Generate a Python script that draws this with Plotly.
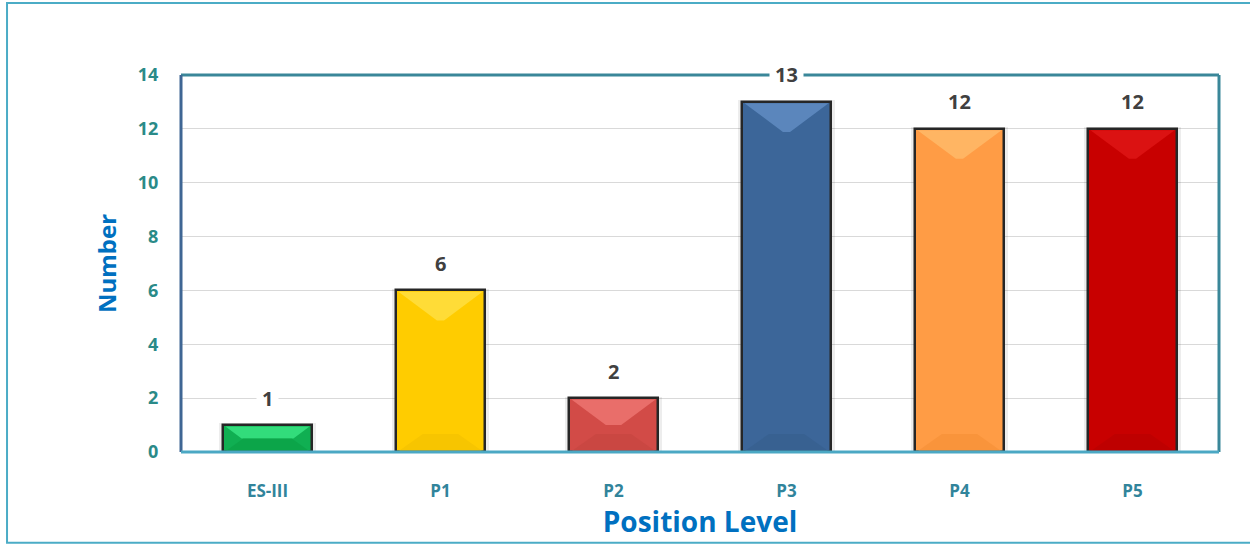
import plotly.graph_objects as go

categories = ["ES-III", "P1", "P2", "P3", "P4", "P5"]
values = [1, 6, 2, 13, 12, 12]
bar_colors = ["#10AF52", "#FFCC00", "#D24B47", "#3C6699", "#FF9C45", "#C80000"]
top_colors = ["#3DEB8A", "#FFE24A", "#F07A76", "#6592C8", "#FFBE6E", "#E21818"]
bottom_colors = ["#0A9E45", "#F2BF00", "#C44440", "#355D8C", "#F59035", "#B80000"]
y_ticks = [0, 2, 4, 6, 8, 10, 12, 14]

BAR_W = 0.51
fig = go.Figure()

# soft shadow behind bars
fig.add_trace(go.Bar(x=list(range(len(categories))), y=[v + 0.06 for v in values], width=BAR_W + 0.05,
                     marker=dict(color="rgba(0,0,0,0.07)", line=dict(width=0)),
                     hoverinfo="skip", showlegend=False))
fig.add_trace(go.Bar(x=list(range(len(categories))), y=values, width=BAR_W,
                     marker=dict(color=bar_colors, line=dict(color="#262626", width=2.5)),
                     showlegend=False))

shapes = []
px_per_unit = 377 / 14.0
for i, v in enumerate(values):
    x0, x1 = i - BAR_W / 2, i + BAR_W / 2
    depth = min(30 / px_per_unit, v / 2.0)
    inset = BAR_W * 0.46 * depth / (30 / px_per_unit)
    # top bevel (lighter)
    shapes.append(dict(type="path", xref="x", yref="y",
                       path=f"M {x0+0.012},{v-0.05} L {x1-0.012},{v-0.05} L {x1-inset},{v-depth} L {x0+inset},{v-depth} Z",
                       fillcolor=top_colors[i], line=dict(width=0), opacity=0.75, layer="above"))
    # bottom bevel (darker)
    bd = min(18 / px_per_unit, v / 2.0)
    bi = BAR_W * 0.3 * bd / (18 / px_per_unit)
    shapes.append(dict(type="path", xref="x", yref="y",
                       path=f"M {x0+0.012},0.03 L {x1-0.012},0.03 L {x1-bi},{bd} L {x0+bi},{bd} Z",
                       fillcolor=bottom_colors[i], line=dict(width=0), opacity=0.6, layer="above"))

# plot frame
shapes += [
    dict(type="line", xref="paper", yref="paper", x0=0, x1=1, y0=1, y1=1, line=dict(color="#3A8799", width=3)),
    dict(type="line", xref="paper", yref="paper", x0=1, x1=1, y0=0, y1=1, line=dict(color="#3A8799", width=3)),
    dict(type="line", xref="paper", yref="paper", x0=0, x1=0, y0=0, y1=1, line=dict(color="#3F6694", width=3)),
    dict(type="line", xref="paper", yref="paper", x0=0, x1=1, y0=0, y1=0, line=dict(color="#4BA8C4", width=3)),
    # outer chart border
    dict(type="rect", xref="paper", yref="paper", x0=-0.1676, x1=1.04, y0=-0.241, y1=1.191,
         line=dict(color="#4BACC6", width=2), layer="below"),
]

annotations = []
for i, v in enumerate(values):
    annotations.append(dict(x=i, y=v, xref="x", yref="y", text=f"<b>{v}</b>", showarrow=False,
                            yshift=27, font=dict(size=20, color="#404040", family="Open Sans"),
                            bgcolor="white", borderpad=5))

fig.update_layout(
    width=1250, height=544,
    margin=dict(l=181, r=31, t=75, b=92),
    paper_bgcolor="white", plot_bgcolor="white",
    bargap=0, barmode="overlay",
    shapes=shapes, annotations=annotations,
    font=dict(family="Open Sans"),
    xaxis=dict(
        tickmode="array", tickvals=list(range(len(categories))),
        ticktext=[f"<b>{c}</b>" for c in categories],
        range=[-0.5, len(categories) - 0.5],
        tickfont=dict(size=17, color="#31849B", family="Open Sans"),
        showgrid=False, zeroline=False, showline=False, ticks="outside", ticklen=24, tickcolor="rgba(0,0,0,0)",
        title=dict(text="<b>Position Level</b>", font=dict(size=28, color="#0070C0", family="Open Sans"), standoff=6),
    ),
    yaxis=dict(
        range=[0, 14], tickvals=y_ticks, ticktext=[f"<b>{t}</b>" for t in y_ticks],
        tickfont=dict(size=18, color="#2A8A88", family="Open Sans"),
        showgrid=True, gridcolor="#D9D9D9", gridwidth=1, zeroline=False, showline=False,
        ticks="outside", ticklen=18, tickcolor="rgba(0,0,0,0)",
        title=dict(text="<b>Number</b>", font=dict(size=24, color="#0070C0", family="Open Sans"), standoff=14),
    ),
)

fig.write_html("out.html")
